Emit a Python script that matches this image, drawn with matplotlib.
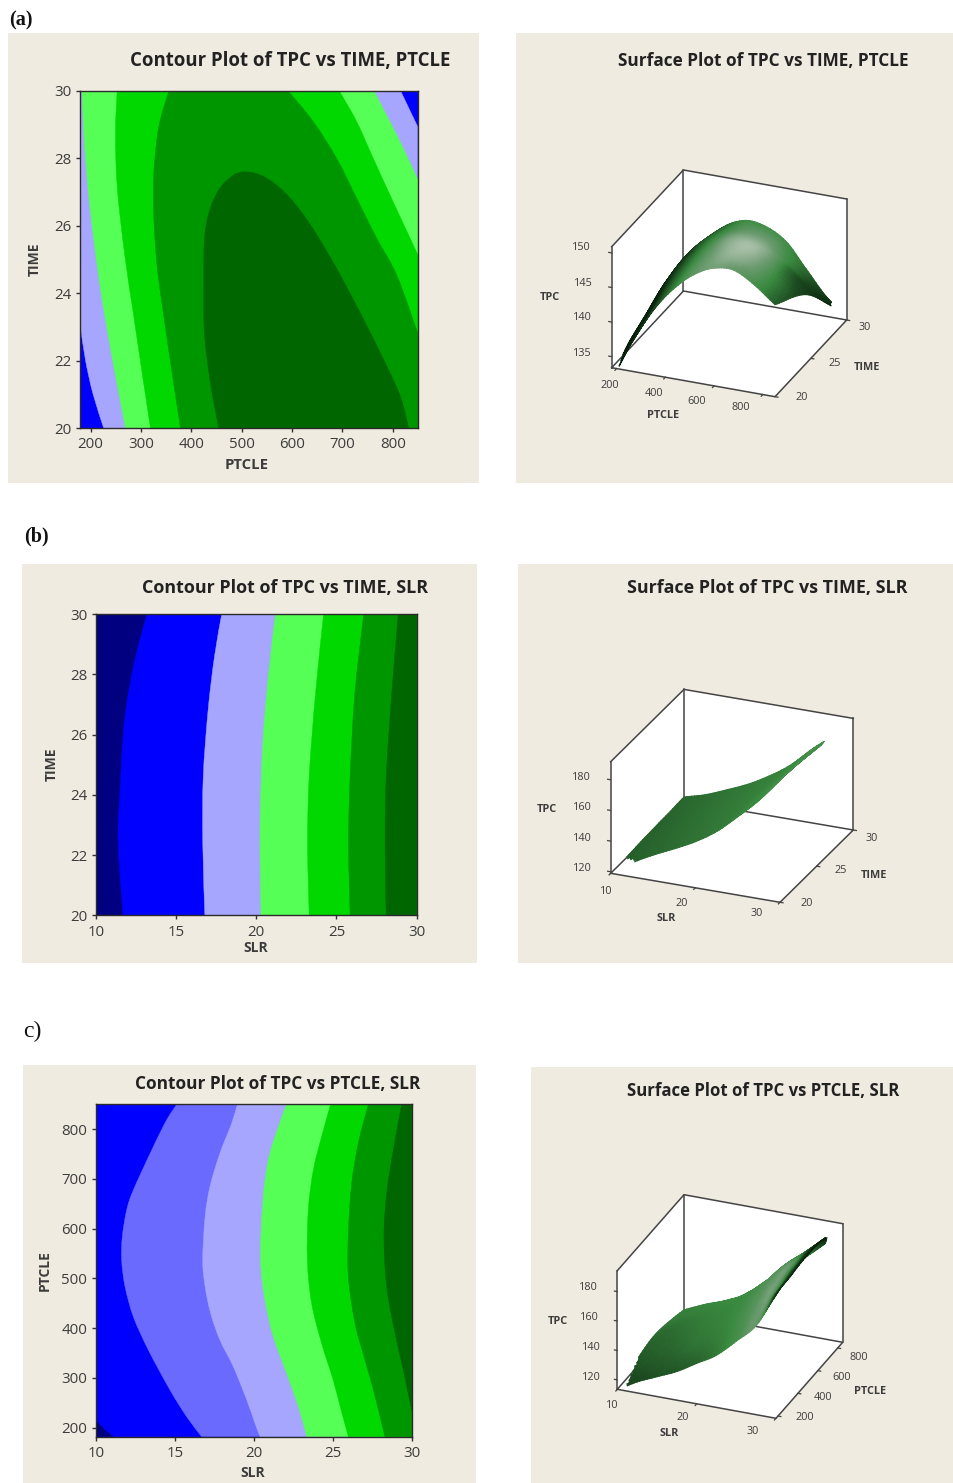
import numpy as np
import matplotlib
matplotlib.use("Agg")
import matplotlib.pyplot as plt
from matplotlib.path import Path
from matplotlib.patches import PathPatch, Rectangle
from matplotlib.colors import LinearSegmentedColormap
from matplotlib.tri import Triangulation, UniformTriRefiner, CubicTriInterpolator
from mpl_toolkits.mplot3d import proj3d
from mpl_toolkits.mplot3d.art3d import Poly3DCollection

W, H = 954, 1483
BG = "#f0ebe1"
NAVY, BLUE, PERI, LAV, LGREEN, BGREEN, MGREEN, DGREEN = (
    "#000080", "#0000ff", "#6a6aff", "#a6a6ff", "#55ff55", "#00d800", "#009600", "#006600")
TXT = "#3c3c3c"
SANS = "Open Sans"

# ---------- contour data: boundaries (x, y) ----------
A_LAV = [[(180, 23), (190, 22), (205, 21), (226, 20)], [(849.4, 28.94), (815.6, 30)]]
A_LG = [[(183.3, 30), (186.6, 28.75), (194.5, 27.17), (206.4, 25.59), (222.9, 23.81), (246, 21.83), (269.2, 20)],
        [(850, 27.36), (820.9, 28.3), (794.4, 29.09), (762.6, 30)]]
A_BG = [[(252.8, 30), (249.4, 28.75), (252.8, 27.17), (267.3, 25.19), (285.8, 23.31), (302.4, 21.63), (318.9, 20)],
        [(850, 25.13), (801, 26.7), (761.2, 28), (728.3, 29.09), (693.8, 30)]]
A_MG = [[(355.3, 30), (335.4, 28.94), (325.5, 27.56), (325.5, 26.27), (332.1, 24.79), (345.4, 23.31),
         (361.9, 21.63), (378.4, 20)],
        [(850, 22.8), (807.7, 24.54), (768, 25.63), (728.3, 26.82), (688.6, 28), (642.2, 29.09), (592.6, 30)]]
A_DG = [[(454.5, 20), (438, 21.33), (426, 22.82), (424.7, 24.3), (426, 25.58), (434.6, 26.37), (454.5, 27.07),
         (484.2, 27.51), (510.7, 27.6), (543.8, 27.46), (583.4, 27.02), (629.7, 26.18), (682.6, 24.89),
         (735.5, 23.41), (781.8, 22.03), (814.9, 20.94), (831.4, 20)]]

B_EDGES = [
    [(13.2, 30), (12.45, 28.5), (11.8, 26.5), (11.5, 24), (11.4, 22.4), (11.7, 20)],
    [(17.85, 30), (17.4, 28.6), (17.0, 26.8), (16.7, 24.6), (16.67, 22.4), (16.8, 20)],
    [(21.2, 30), (20.75, 27.9), (20.4, 25.6), (20.24, 22.9), (20.3, 20)],
    [(24.2, 30), (23.7, 27.4), (23.3, 24.6), (23.2, 22.4), (23.3, 20)],
    [(26.7, 30), (26.15, 27.4), (25.85, 24.6), (25.75, 22.4), (25.85, 20)],
    [(28.85, 30), (28.45, 27.4), (28.1, 24.6), (28.03, 22.4), (28.1, 20)],
]
C_EDGES = [
    [(15.12, 850), (14.48, 818.5), (13.64, 765), (12.38, 678), (11.96, 638), (11.68, 584), (11.64, 537),
     (11.85, 484), (12.38, 423), (13.33, 356), (14.69, 276), (15.75, 222), (16.69, 182)],
    [(18.95, 850), (18.59, 812), (17.85, 752), (17.22, 685), (16.91, 624), (16.76, 537), (16.91, 484),
     (17.26, 430), (17.85, 376), (18.69, 323), (19.54, 256), (20.06, 209), (20.38, 182)],
    [(22.06, 850), (21.54, 805), (20.9, 738), (20.55, 651), (20.42, 537), (20.69, 457), (21.22, 383),
     (22.06, 309), (22.8, 243), (23.33, 182)],
    [(24.84, 850), (24.27, 785), (23.75, 718), (23.43, 638), (23.37, 537), (23.64, 450), (24.27, 370),
     (25.0, 296), (25.5, 236), (25.96, 182)],
    [(27.22, 850), (26.59, 772), (26.17, 691), (25.96, 591), (25.96, 504), (26.38, 410), (27.01, 336),
     (27.6, 269), (28.27, 182)],
    [(29.33, 850), (28.8, 758), (28.38, 671), (28.21, 584), (28.38, 484), (28.91, 390), (29.43, 316), (30, 229)],
]
C_NAVY = [(10, 215), (10.6, 195), (11.1, 182)]

TICKS_PTCLE = [200, 300, 400, 500, 600, 700, 800]
TICKS_TIME = [20, 22, 24, 26, 28, 30]
TICKS_SLR = [10, 15, 20, 25, 30]

# ---------- surface data: heights and shade ----------
A_X = [180, 264, 348, 432, 515, 599, 683, 766, 850]
A_Y = [20, 22.5, 25, 27.5, 30]
A_Z = [[131.5, 137.6, 142.6, 146.3, 148.9, 150.4, 150.6, 149.0, 146.7],
       [134.5, 139.0, 144.0, 147.0, 149.0, 149.6, 148.8, 146.9, 145.0],
       [136.0, 141.1, 144.8, 147.2, 148.5, 148.1, 147.2, 145.2, 142.5],
       [137.4, 141.8, 144.8, 146.4, 146.9, 145.6, 143.5, 140.6, 138.4],
       [137.5, 141.0, 143.8, 145.2, 144.9, 143.3, 139.8, 136.3, 134.0]]
A_S = [[0.00, 0.05, 0.22, 0.42, 0.60, 0.68, 0.62, 0.50, 0.30],
       [0.00, 0.08, 0.25, 0.45, 0.65, 0.80, 0.70, 0.45, 0.25],
       [0.00, 0.08, 0.28, 0.47, 0.72, 0.85, 0.68, 0.32, 0.15],
       [0.00, 0.10, 0.30, 0.47, 0.62, 0.68, 0.46, 0.22, 0.08],
       [0.00, 0.12, 0.30, 0.45, 0.47, 0.47, 0.36, 0.18, 0.05]]
BS_X = [10, 12.5, 15, 17.5, 20, 22.5, 25, 27.5, 30]
BS_Y = [20, 22.5, 25, 27.5, 30]
BS_Z = [[118.0, 128.0, 135.5, 142.0, 149.0, 158.0, 170.0, 183.0, 199.0],
        [119.5, 129.0, 136.0, 142.0, 149.0, 158.0, 170.0, 183.0, 198.5],
        [120.5, 128.5, 135.5, 141.5, 148.5, 157.0, 169.0, 182.0, 197.5],
        [121.0, 127.0, 133.0, 139.5, 146.5, 155.0, 167.5, 180.0, 194.0],
        [121.6, 125.5, 131.0, 137.0, 144.7, 154.0, 166.5, 178.0, 190.0]]
BS_S = [[0.30, 0.32, 0.34, 0.36, 0.38, 0.40, 0.43, 0.46, 0.50],
        [0.31, 0.33, 0.35, 0.37, 0.39, 0.41, 0.44, 0.47, 0.50],
        [0.32, 0.34, 0.36, 0.38, 0.40, 0.42, 0.45, 0.48, 0.50],
        [0.33, 0.35, 0.37, 0.39, 0.41, 0.43, 0.46, 0.48, 0.50],
        [0.34, 0.36, 0.38, 0.40, 0.42, 0.44, 0.47, 0.49, 0.50]]
CS_X = [10, 12.5, 15, 17.5, 20, 22.5, 25, 27.5, 30]
CS_Y = [180, 350, 520, 680, 850]
CS_Z = [[113.0, 121.0, 127.0, 133.0, 141.0, 149.0, 161.0, 174.0, 197.0],
        [118.0, 125.0, 132.0, 138.0, 147.0, 157.0, 171.0, 184.0, 199.0],
        [121.5, 130.0, 137.0, 143.5, 152.0, 165.0, 177.0, 188.0, 200.0],
        [120.0, 127.0, 134.0, 141.0, 150.0, 160.0, 175.0, 186.0, 198.0],
        [116.0, 122.0, 127.0, 133.0, 139.0, 152.0, 165.0, 177.0, 190.0]]
CS_S = [[0.22, 0.24, 0.27, 0.29, 0.33, 0.40, 0.50, 0.62, 0.10],
        [0.28, 0.31, 0.34, 0.38, 0.41, 0.46, 0.56, 0.66, 0.05],
        [0.34, 0.36, 0.39, 0.42, 0.44, 0.48, 0.56, 0.64, 0.00],
        [0.40, 0.41, 0.43, 0.45, 0.46, 0.48, 0.50, 0.36, 0.00],
        [0.42, 0.44, 0.45, 0.46, 0.47, 0.48, 0.47, 0.24, 0.00]]
SHADE_STOPS = [(0, "#061c08"), (0.25, "#1c4a20"), (0.45, "#3a8a40"), (0.65, "#6a9a6e"), (0.85, "#a8bfa8"),
               (1, "#d0dcd0")]

fig = plt.figure(figsize=(W / 100, H / 100), dpi=100, facecolor="white")


def fx(px): return px / W
def fy(py): return 1 - py / H


def panel(x0, y0, x1, y1):
    fig.add_artist(Rectangle((fx(x0), fy(y1)), (x1 - x0) / W, (y1 - y0) / H,
                             transform=fig.transFigure, fc=BG, ec="none", zorder=-5))


def ftext(px, py, s, size, weight="normal", rotation=0, width=None, color=TXT, family=SANS):
    t = fig.text(fx(px), fy(py), s, fontsize=size, fontweight=weight, rotation=rotation,
                 ha="center", va="center", color=color, family=family)
    if width is not None:
        r = fig.canvas.get_renderer()
        w = t.get_window_extent(r).width
        t.set_fontsize(size * width / w)
    return t


def cr_segment(pts):
    p = np.asarray(pts, float)
    verts, codes = [], []
    for i in range(len(p) - 1):
        p0 = p[i - 1] if i > 0 else p[i]
        p1, p2 = p[i], p[i + 1]
        p3 = p[i + 2] if i + 2 < len(p) else p[i + 1]
        verts += [tuple(p1 + (p2 - p0) / 6), tuple(p2 - (p3 - p1) / 6), tuple(p2)]
        codes += [Path.CURVE4] * 3
    return verts, codes


def region(ax, color, *segments):
    verts, codes = [], []
    for seg in segments:
        verts.append(tuple(seg[0]))
        codes.append(Path.LINETO if codes else Path.MOVETO)
        if len(seg) > 1:
            v, c = cr_segment(seg)
            verts += v
            codes += c
    verts.append(verts[0])
    codes.append(Path.CLOSEPOLY)
    ax.add_patch(PathPatch(Path(verts, codes), fc=color, ec=color, lw=0.3, zorder=1))


def contour_axes(box, xlim, ylim, xticks, yticks, base):
    x0, y0, x1, y1 = box
    ax = fig.add_axes([fx(x0), fy(y1), (x1 - x0) / W, (y1 - y0) / H])
    ax.set_xlim(*xlim)
    ax.set_ylim(*ylim)
    ax.set_facecolor(base)
    ax.set_xticks(xticks)
    ax.set_yticks(yticks)
    ax.tick_params(length=3.2, width=1, color="#333333", labelcolor=TXT, labelsize=10.8, pad=3)
    ax.tick_params(axis="x", pad=3.5)
    for lab in ax.get_xticklabels() + ax.get_yticklabels():
        lab.set_family(SANS)
    for s in ax.spines.values():
        s.set_color("#2a2a2a")
        s.set_linewidth(1)
        s.set_zorder(5)
    return ax


# ---------- panel backgrounds ----------
panel(8, 33, 479, 483); panel(516, 33, 954, 483)
panel(22, 564, 477, 963); panel(518, 564, 954, 963)
panel(23, 1065, 476, 1483); panel(531, 1067, 954, 1483)

# ---------- panel (a) contour ----------
ax = contour_axes((80.5, 91, 418, 428), (180, 850), (20, 30), TICKS_PTCLE, TICKS_TIME, BLUE)
xa0, xa1, ya0, ya1 = 180, 850, 20, 30
region(ax, LAV, A_LAV[0], [(xa1, ya0)], A_LAV[1], [(xa0, ya1)])
region(ax, LGREEN, A_LG[0], [(xa1, ya0)], A_LG[1])
region(ax, BGREEN, A_BG[0], [(xa1, ya0)], A_BG[1])
region(ax, MGREEN, A_MG[0], [(xa1, ya0)], A_MG[1])
region(ax, DGREEN, A_DG[0])

# ---------- panel (b) contour ----------
ax = contour_axes((95.7, 614.3, 416.7, 915.3), (10, 30), (20, 30), TICKS_SLR, TICKS_TIME, NAVY)
for edge, col in zip(B_EDGES, [BLUE, LAV, LGREEN, BGREEN, MGREEN, DGREEN]):
    region(ax, col, edge, [(30, 20)], [(30, 30)])

# ---------- panel (c) contour ----------
ax = contour_axes((95.7, 1104.3, 412.3, 1436.7), (10, 30), (182, 850), TICKS_SLR, TICKS_PTCLE, BLUE)
region(ax, NAVY, C_NAVY, [(10, 182)])
for edge, col in zip(C_EDGES, [PERI, LAV, LGREEN, BGREEN, MGREEN]):
    region(ax, col, edge, [(30, 182)], [(30, 850)])
region(ax, DGREEN, C_EDGES[5], [(30, 850)])

# ---------- contour texts ----------
ftext(290, 61, "Contour Plot of TPC vs TIME, PTCLE", 12, "bold", width=321, color="#222222")
ftext(285, 588, "Contour Plot of TPC vs TIME, SLR", 12, "bold", width=286, color="#222222")
ftext(278, 1084, "Contour Plot of TPC vs PTCLE, SLR", 12, "bold", width=285, color="#222222")
ftext(763, 61, "Surface Plot of TPC vs TIME, PTCLE", 12, "bold", width=291, color="#222222")
ftext(767, 588, "Surface Plot of TPC vs TIME, SLR", 12, "bold", width=280, color="#222222")
ftext(763, 1091, "Surface Plot of TPC vs PTCLE, SLR", 12, "bold", width=271, color="#222222")
ftext(247, 465, "PTCLE", 10, "bold", width=44)
ftext(35, 259, "TIME", 10, "bold", rotation=90)
ftext(256, 948, "SLR", 10, "bold")
ftext(52, 764, "TIME", 10, "bold", rotation=90)
ftext(253, 1473, "SLR", 10, "bold")
ftext(45, 1271, "PTCLE", 10, "bold", rotation=90)
ftext(21, 20, "(a)", 14.5, "bold", color="#111111", family="Liberation Serif")
ftext(36, 536, "(b)", 14.5, "bold", color="#111111", family="Liberation Serif")
ftext(32, 1031, "c)", 17, "normal", color="#111111", family="Liberation Serif")


# ---------- surfaces ----------
def project(ax, x, y, z):
    xs, ys, _ = proj3d.proj_transform(x, y, z, ax.get_proj())
    p = ax.transData.transform((xs, ys))
    return np.array([p[0], H - p[1]])


def surface(corners, xlim, ylim, zlim, X, Y, Z, SH, keep, xt, yt, zt):
    A, B, C, Ap = [np.array(corners[k], float) for k in "ABCT"]
    ex, ey, ez = B - A, C - B, A - Ap
    tsin = abs(ex[1] / ex[0])
    sint = abs(ey[1] / ey[0])
    el = np.arcsin(np.sqrt(tsin * sint))
    phi = np.arctan(np.sqrt(tsin / sint))
    asp = np.array([ex[0] / np.cos(phi), ey[0] / np.sin(phi), ez[1] / np.cos(el)])
    elev, azim = np.degrees(el), -90 + np.degrees(phi)

    S = 330.0
    cx, cy = (A[0] + C[0]) / 2, (Ap[1] + B[1]) / 2
    ax = fig.add_axes([fx(cx - S / 2), fy(cy + S / 2), S / W, S / H], projection="3d",
                      proj_type="ortho", computed_zorder=False)
    ax.set_axis_off()
    ax.patch.set_alpha(0)
    ax.view_init(elev=elev, azim=azim)
    ax.set_box_aspect(tuple(asp))
    ax.set_xlim(*xlim); ax.set_ylim(*ylim); ax.set_zlim(*zlim)
    for _ in range(4):
        fig.canvas.draw()
        a = project(ax, xlim[0], ylim[0], zlim[0])
        b = project(ax, xlim[1], ylim[0], zlim[0])
        c = project(ax, xlim[1], ylim[1], zlim[0])
        t = project(ax, xlim[0], ylim[0], zlim[1])
        ratio = (C[0] - A[0]) / (c[0] - a[0])
        S *= ratio
        mid_now = np.array([(a[0] + c[0]) / 2, (t[1] + b[1]) / 2])
        cx += (A[0] + C[0]) / 2 - mid_now[0]
        cy += (Ap[1] + B[1]) / 2 - mid_now[1]
        ax.set_position([fx(cx - S / 2), fy(cy + S / 2), S / W, S / H])

    x0, x1, y0, y1, z0, z1 = *xlim, *ylim, *zlim
    walls = [[(x0, y0, z0), (x1, y0, z0), (x1, y1, z0), (x0, y1, z0)],
             [(x0, y0, z0), (x0, y1, z0), (x0, y1, z1), (x0, y0, z1)],
             [(x0, y1, z0), (x1, y1, z0), (x1, y1, z1), (x0, y1, z1)]]
    ax.add_collection3d(Poly3DCollection(walls, facecolors="white", edgecolors="none", zorder=1))
    lines = [[(x0, x1, x1, x0, x0), (y0, y0, y1, y1, y0), (z0,) * 5],
             [(x0, x0), (y0, y0), (z0, z1)], [(x0, x0), (y1, y1), (z0, z1)], [(x1, x1), (y1, y1), (z0, z1)],
             [(x0, x0, x1), (y0, y1, y1), (z1, z1, z1)]]
    for lx, ly, lz in lines:
        ax.plot(lx, ly, lz, color="#444444", lw=1.1, zorder=2)
    dx, dy = 0.018 * (x1 - x0), 0.022 * (y1 - y0)
    for v in xt:
        ax.plot((v, v), (y0, y0 - dy), (z0, z0), color="#444444", lw=0.9, zorder=2)
    for v in yt:
        ax.plot((x1, x1 + dx), (v, v), (z0, z0), color="#444444", lw=0.9, zorder=2)
    for v in zt:
        ax.plot((x0, x0 - dx), (y0, y0), (v, v), color="#444444", lw=0.9, zorder=2)

    # mesh
    Xa, Ya = np.meshgrid(np.asarray(X, float), np.asarray(Y, float))
    Za = np.asarray(Z, float)
    Sa = np.asarray(SH, float)
    u = (Xa - x0) / (x1 - x0)
    v = (Ya - y0) / (y1 - y0)
    nx, ny = Xa.shape[1], Xa.shape[0]
    tris = []
    for j in range(ny - 1):
        for i in range(nx - 1):
            q = j * nx + i
            tris += [[q, q + 1, q + nx], [q + 1, q + nx + 1, q + nx]]
    tri = Triangulation(u.ravel(), v.ravel(), np.array(tris))
    refiner = UniformTriRefiner(tri)
    rt, rz = refiner.refine_field(Za.ravel(), triinterpolator=CubicTriInterpolator(tri, Za.ravel(), kind="geom"),
                                  subdiv=3)
    _, rs = refiner.refine_field(Sa.ravel(), triinterpolator=CubicTriInterpolator(tri, Sa.ravel(), kind="geom"),
                                 subdiv=3)
    rx = x0 + rt.x * (x1 - x0)
    ry = y0 + rt.y * (y1 - y0)
    T = rt.triangles
    mask = keep(rx[T].mean(1), ry[T].mean(1), rz[T].mean(1))
    T = T[mask]
    verts = np.stack([rx[T], ry[T], rz[T]], axis=-1)
    cmap = LinearSegmentedColormap.from_list("s", SHADE_STOPS)
    cols = cmap(np.clip(rs[T].mean(1), 0, 1))
    pc = Poly3DCollection(verts, facecolors=cols, edgecolors=cols, linewidths=0.6, zorder=3)
    ax.add_collection3d(pc)
    return ax


surface(dict(A=(611.7, 367.7), B=(775, 396.7), C=(846.7, 320), T=(610, 246.7)),
        (180, 850), (20, 30), (133.4, 150.9), A_X, A_Y, A_Z, A_S,
        lambda x, y, z: (z > 133.6) & ((x - 783) / 67 + (y - 27.7) / 2.3 < 1),
        [200, 400, 600, 800], [20, 25, 30], [135, 140, 145, 150])
surface(dict(A=(610.7, 873.3), B=(780, 902.3), C=(853.3, 830), T=(608.3, 761.7)),
        (10, 30), (20, 30), (119, 191.8), BS_X, BS_Y, BS_Z, BS_S,
        lambda x, y, z: (z > 119.2) & ((x - 26.5) / 3.5 + (y - 25) / 5 < 1) & ((x - 10) / 3 + (y - 20) / 2.2 > 1),
        [10, 20, 30], [20, 25, 30], [120, 140, 160, 180])
surface(dict(A=(617.3, 1389.3), B=(776, 1418.3), C=(842.7, 1342.3), T=(615, 1270.7)),
        (10, 30), (180, 850), (113.6, 194.2), CS_X, CS_Y, CS_Z, CS_S,
        lambda x, y, z: (z > 113.8) & ((x - 27.9) / 2.1 + (y - 682) / 168 < 1) & (x + (y - 180) / 200 > 11.2),
        [10, 20, 30], [200, 400, 600, 800], [120, 140, 160, 180])

# ---------- surface tick labels ----------
LBL = 7.8
for (px, py, s) in [(581, 248, "150"), (583, 284, "145"), (582, 318, "140"), (582, 353, "135"),
                    (610, 385, "200"), (654, 393, "400"), (697, 401, "600"), (741, 408, "800"),
                    (802, 397, "20"), (835, 363, "25"), (865, 328, "30"),
                    (581, 777, "180"), (582, 808, "160"), (582, 838, "140"), (582, 869, "120"),
                    (606, 891, "10"), (682, 903, "20"), (757, 914, "30"),
                    (807, 903, "20"), (841, 871, "25"), (872, 838, "30"),
                    (588, 1287, "180"), (589, 1317, "160"), (591, 1347, "140"), (591, 1377, "120"),
                    (612, 1406, "10"), (683, 1418, "20"), (753, 1431, "30"),
                    (805, 1417, "200"), (823, 1397, "400"), (842, 1377, "600"), (859, 1357, "800")]:
    ftext(px, py, s, LBL)
for (px, py, s) in [(550, 297, "TPC"), (663, 416, "PTCLE"), (867, 367, "TIME"),
                    (547, 809, "TPC"), (666, 919, "SLR"), (874, 875, "TIME"),
                    (558, 1321, "TPC"), (669, 1434, "SLR"), (870, 1391, "PTCLE")]:
    ftext(px, py, s, 7.8, "bold")

fig.savefig("out.png", dpi=100)
